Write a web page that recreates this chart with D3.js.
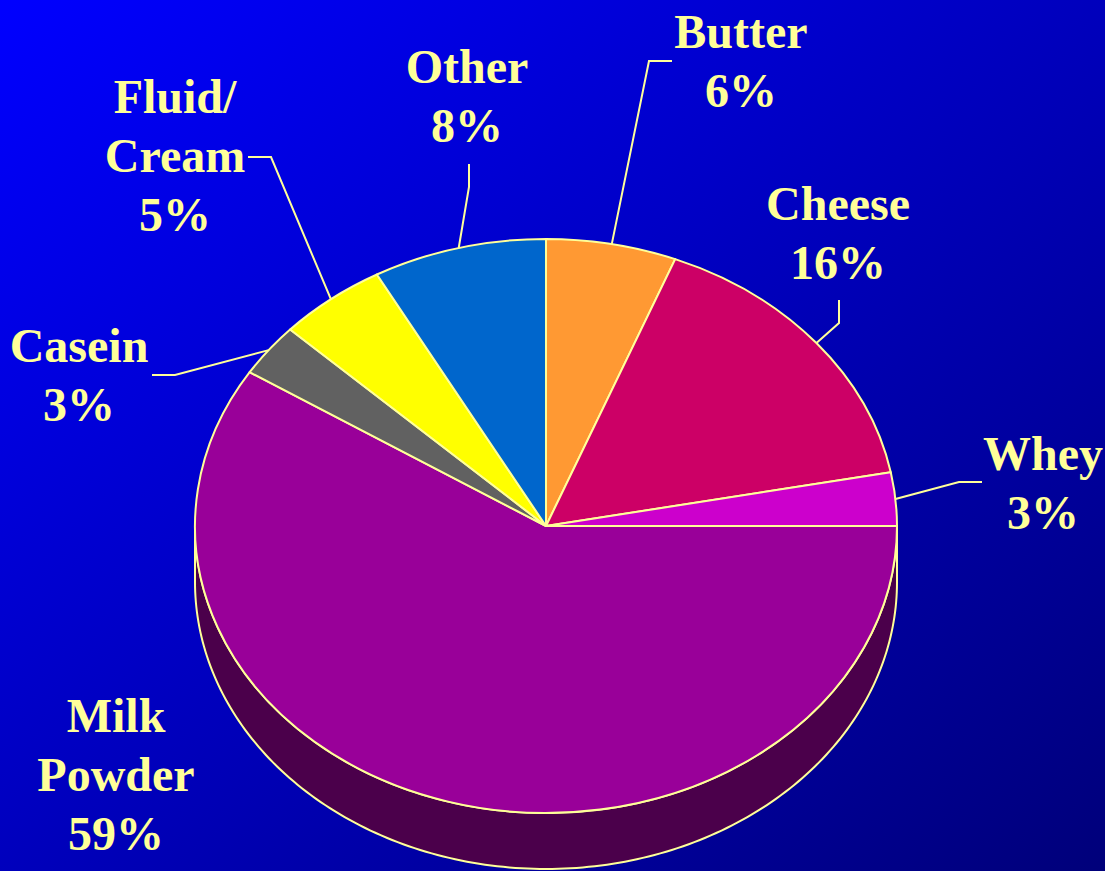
<!DOCTYPE html>
<html>
<head>
<meta charset="utf-8">
<script src="https://cdn.jsdelivr.net/npm/d3@7"></script>
<style>
  html, body { margin: 0; padding: 0; background: #0000c0; }
  svg { display: block; }
</style>
</head>
<body>
<svg id="chart" width="1105" height="871"></svg>
<script>
// Dairy product shares (percent), clockwise from 12 o'clock
const categories = ["Butter", "Cheese", "Whey", "Milk Powder", "Casein", "Fluid/Cream", "Other"];
const shares = [6, 16, 3, 59, 3, 5, 8];
const labelLines = [["Butter"], ["Cheese"], ["Whey"], ["Milk", "Powder"], ["Casein"], ["Fluid/", "Cream"], ["Other"]];
const sliceColors = ["#ff9933", "#cc0066", "#cc00cc", "#990099", "#616161", "#ffff00", "#0066cc"];

const W = 1105, H = 871;
const cx = 546, cy = 526;      // centre of the top face
const rx = 351, ry = 287;      // ellipse radii of the top face
const depth = 56;              // thickness of the disc
const edge = "#ffff99";
const textColor = "#ffff99";

// label placement: centre x, first baseline y, and leader polyline (elbow, end)
const labelLayout = [
  { x: 741, y: 48,  leader: [[649, 61], [672, 61]] },
  { x: 838, y: 220, leader: [[839, 323], [839, 300]] },
  { x: 1043, y: 470, leader: [[959, 482], [982, 482]] },
  { x: 116, y: 732, leader: null },
  { x: 79,  y: 362, leader: [[175, 375], [152, 375]] },
  { x: 175, y: 113, leader: [[271, 157], [248, 157]] },
  { x: 467, y: 83,  leader: [[469, 187], [469, 164]] }
];
const lineGap = 59;

const svg = d3.select("#chart");

// background gradient
const defs = svg.append("defs");
const bg = defs.append("linearGradient").attr("id", "bg")
  .attr("x1", 0).attr("y1", 0).attr("x2", 1).attr("y2", 1);
bg.append("stop").attr("offset", 0).attr("stop-color", "#0000ff");
bg.append("stop").attr("offset", 1).attr("stop-color", "#00007a");
svg.append("rect").attr("width", W).attr("height", H).attr("fill", "url(#bg)");

const pie = d3.pie().sort(null).value(d => d).startAngle(0).endAngle(2 * Math.PI);
const arcs = pie(shares);

// point on the ellipse for a d3 angle (0 = up, clockwise)
const ell = (a, dy = 0) => [cx + rx * Math.sin(a), cy - ry * Math.cos(a) + dy];

// side wall of the disc: visible front half (angles PI/2 .. 3PI/2)
const steps = 180;
const sideAngles = d3.range(steps + 1).map(i => Math.PI / 2 + Math.PI * i / steps);
const sidePts = sideAngles.map(a => ell(a)).concat(sideAngles.slice().reverse().map(a => ell(a, depth)));
svg.append("path")
  .attr("d", d3.line()(sidePts) + "Z")
  .attr("fill", "#4b004b")
  .attr("stroke", edge)
  .attr("stroke-width", 2)
  .attr("stroke-linejoin", "round");

// top face slices, drawn on a circle and squashed into the ellipse
const arcGen = d3.arc().innerRadius(0).outerRadius(rx);
svg.append("g")
  .attr("transform", `translate(${cx},${cy}) scale(1,${ry / rx})`)
  .selectAll("path")
  .data(arcs)
  .join("path")
  .attr("d", arcGen)
  .attr("fill", (d, i) => sliceColors[i])
  .attr("stroke", edge)
  .attr("stroke-width", 2)
  .attr("stroke-linejoin", "round")
  .attr("vector-effect", "non-scaling-stroke");

// leader lines from slice mid-angle on the rim
const leaders = svg.append("g");
arcs.forEach((d, i) => {
  const lay = labelLayout[i];
  if (!lay.leader) return;
  const mid = (d.startAngle + d.endAngle) / 2;
  const pts = [ell(mid)].concat(lay.leader);
  leaders.append("path")
    .attr("d", d3.line()(pts))
    .attr("fill", "none")
    .attr("stroke", edge)
    .attr("stroke-width", 2);
});

// labels
const labels = svg.append("g")
  .attr("font-family", "'Liberation Serif', 'Times New Roman', serif")
  .attr("font-weight", "bold")
  .attr("font-size", 48)
  .attr("fill", textColor)
  .attr("text-anchor", "middle");
arcs.forEach((d, i) => {
  const lay = labelLayout[i];
  const lines = labelLines[i].concat([`${shares[i]}%`]);
  const t = labels.append("text").attr("x", lay.x).attr("y", lay.y);
  lines.forEach((s, k) => {
    t.append("tspan").attr("x", lay.x).attr("y", lay.y + k * lineGap).text(s);
  });
});
</script>
</body>
</html>
